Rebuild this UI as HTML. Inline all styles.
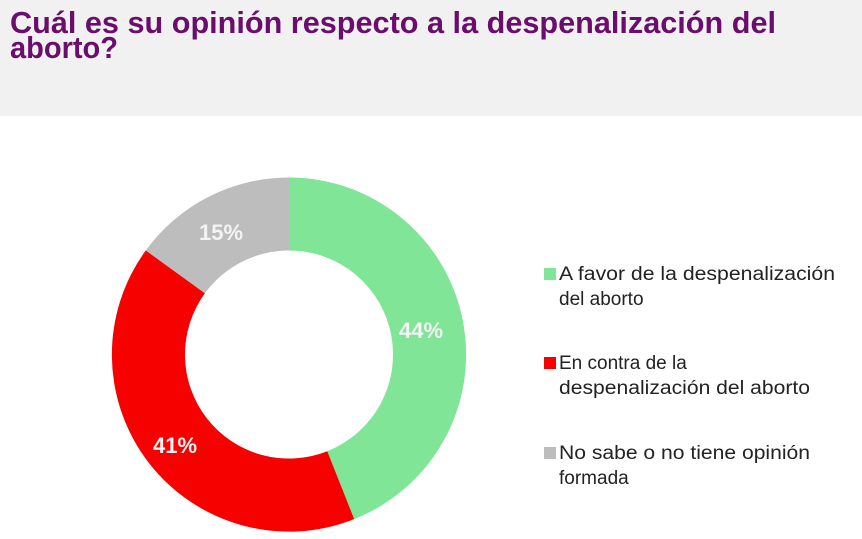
<!DOCTYPE html>
<html><head><meta charset="utf-8"><style>
html,body{margin:0;padding:0;background:#fff;}
svg{display:block;}
</style></head><body>
<svg width="862" height="539" viewBox="0 0 862 539" xmlns="http://www.w3.org/2000/svg">
<rect x="0" y="0" width="862" height="116" fill="#f1f1f1"/>
<g font-family="'Liberation Sans',sans-serif" font-weight="bold" font-size="31" fill="#6b0d6d">
<text x="10" y="33" textLength="766" lengthAdjust="spacingAndGlyphs">Cuál es su opinión  respecto a la despenalización del</text>
<text x="10" y="58" textLength="108" lengthAdjust="spacingAndGlyphs">aborto?</text>
</g>
<path d="M289 177.5 A177 177 0 0 1 354.2 519.1 L327.3 451.2 A104 104 0 0 0 289 250.5 Z" fill="#81e598"/>
<path d="M354.2 519.1 A177 177 0 0 1 145.8 250.4 L204.9 293.3 A104 104 0 0 0 327.3 451.2 Z" fill="#f60000"/>
<path d="M145.8 250.4 A177 177 0 0 1 289 177.5 L289 250.5 A104 104 0 0 0 204.9 293.3 Z" fill="#bdbdbd"/>
<g font-family="'Liberation Sans',sans-serif" font-weight="bold" font-size="22" fill="#f4f4f4">
<text x="199" y="240">15%</text>
<text x="399" y="338">44%</text>
<text x="153" y="453">41%</text>
</g>
<rect x="544" y="268" width="12" height="12" fill="#81e598"/>
<rect x="544" y="357" width="12" height="12" fill="#f60000"/>
<rect x="544" y="447" width="12" height="12" fill="#bdbdbd"/>
<g font-family="'Liberation Sans',sans-serif" font-size="19" fill="#222">
<text x="559" y="280" textLength="276" lengthAdjust="spacingAndGlyphs">A favor de la despenalización</text>
<text x="559" y="305">del aborto</text>
<text x="559" y="369">En contra de la</text>
<text x="559" y="394" textLength="251" lengthAdjust="spacingAndGlyphs">despenalización del aborto</text>
<text x="559" y="459" textLength="251" lengthAdjust="spacingAndGlyphs">No sabe o no tiene opinión</text>
<text x="559" y="484">formada</text>
</g>
</svg>
</body></html>
